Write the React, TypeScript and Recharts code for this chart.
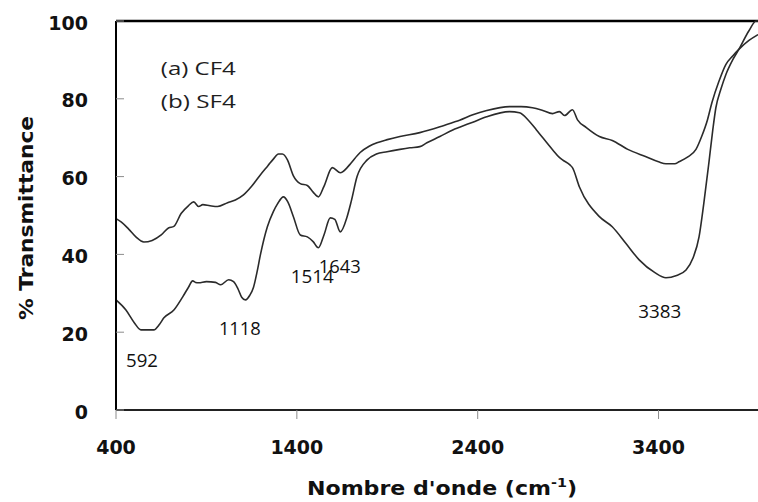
import React from 'react';
import { LineChart, Line, XAxis, YAxis, ReferenceLine, ReferenceDot, Label } from 'recharts';

// FTIR spectra
const cf4Wavenumbers = [
  400, 430, 470, 510, 554, 600, 650, 690, 720, 760, 800, 830, 857, 880, 920, 962, 1017, 1060, 1105, 1150,
  1199, 1240, 1270, 1298, 1320, 1348, 1381, 1419, 1458, 1490, 1519, 1550, 1596, 1640, 1678, 1700, 1750, 1800,
  1843, 1900, 1970, 2080, 2191, 2262, 2300, 2373, 2450, 2576, 2640, 2703, 2760, 2814, 2852, 2880, 2924, 2952,
  3001, 3073, 3144, 3230, 3331, 3400, 3441, 3490, 3513, 3560, 3607, 3640, 3670, 3695, 3734, 3772, 3810, 3844,
  3900, 3950,
];
const cf4Values = [
  49.2, 48.3, 46.5, 44.5, 43.2, 43.6, 45, 46.8, 47.2, 50.5, 52.5, 53.5, 52.3, 52.8, 52.5, 52.3, 53.3, 54, 55.3, 57.5,
  60.5, 62.8, 64.5, 65.8, 65.8, 64.3, 60.2, 58.2, 57.7, 56, 54.8, 57.5, 62.3, 61, 62.3, 63.5, 66.2, 67.8,
  68.7, 69.5, 70.3, 71.3, 72.8, 73.9, 74.5, 75.9, 77, 78, 78, 77.7, 77, 76.2, 76.7, 75.7, 77.2, 74.6,
  72.6, 70.3, 69.3, 67, 65.1, 63.8, 63.3, 63.3, 63.8, 65, 67, 70.5, 74.5, 79, 84.5, 88.8, 91, 92.7,
  95, 96.5,
];

const sf4Wavenumbers = [
  400, 455, 500, 538, 609, 640, 665, 720, 769, 800, 824, 840, 857, 900, 950, 979, 1023, 1050, 1072, 1095,
  1116, 1140, 1160, 1180, 1199, 1237, 1270, 1293, 1326, 1350, 1381, 1419, 1458, 1490, 1519, 1550, 1585, 1610,
  1640, 1678, 1700, 1733, 1789, 1840, 1899, 1970, 2025, 2080, 2119, 2191, 2262, 2300, 2373, 2450, 2576, 2631,
  2680, 2725, 2814, 2850, 2869, 2910, 2924, 2962, 3073, 3144, 3220, 3293, 3380, 3441, 3500, 3552, 3590, 3624,
  3650, 3679, 3700, 3717, 3745, 3772, 3810, 3844, 3900, 3940, 3950,
];
const sf4Values = [
  28.3, 25.7, 22.5, 20.6, 20.6, 22, 23.7, 25.7, 29.1, 31.5, 33.2, 32.8, 32.7, 33, 32.8, 32.2, 33.5, 33, 31.4, 29,
  28.3, 29.5, 31.5, 35.5, 40, 47.1, 51, 53, 54.8, 53.5, 49.7, 45, 44.5, 43.3, 41.7, 45, 49.4, 49,
  45.8, 49.7, 53.5, 60, 64.3, 65.8, 66.4, 67, 67.4, 67.7, 68.7, 70.3, 72, 72.7, 74, 75.4, 76.7, 76.4,
  74.5, 72, 66.9, 65, 64.3, 63, 62.3, 57.4, 49.7, 47.1, 42.8, 38.6, 35.3, 34, 34.6, 36, 39, 44.5,
  53, 63.8, 72, 77.7, 82.5, 86.2, 90, 92.7, 97.5, 100, 100,
];

const xTicks = [400, 1400, 2400, 3400];
const yTicks = [0, 20, 40, 60, 80, 100];

const seriesNames = ['(a) CF4', '(b) SF4'];
const legendX = [648, 648];
const legendY = [86.2, 77.7];

const peakLabels = ['592', '1118', '1514', '1643', '3383'];
const peakX = [544, 1085, 1485, 1637, 3407];
const peakY = [11.1, 19.3, 32.7, 35.3, 23.7];
const peakWidths = [32, 42, 43, 42, 43];

const cf4Data = cf4Wavenumbers.map((x, i) => ({ x, t: cf4Values[i] }));
const sf4Data = sf4Wavenumbers.map((x, i) => ({ x, t: sf4Values[i] }));

const YTick = (props: any) => {
  const { x, y, payload } = props;
  return (
    <g>
      <line x1={x} y1={y} x2={x + 8} y2={y} stroke="#8c8c8c" strokeWidth={1} />
      <text x={x - 28} y={y} dy={8.5} textAnchor="end" fontFamily="DejaVu Sans" fontWeight="bold" fontSize={19} fill="#111">
        {payload.value}
      </text>
    </g>
  );
};

const XTick = (props: any) => {
  const { x, y, payload } = props;
  return (
    <g>
      <line x1={x} y1={y} x2={x} y2={y + 9} stroke="#8c8c8c" strokeWidth={1} />
      <text x={x} y={y + 44} textAnchor="middle" fontFamily="DejaVu Sans" fontWeight="bold" fontSize={19} fill="#111">
        {payload.value}
      </text>
    </g>
  );
};

const App: React.FC = () => {
  return (
    <div style={{ position: 'absolute', left: 0, top: 0, width: 758, height: 502, background: '#fff' }}>
      <LineChart width={758} height={502} margin={{ top: 21, right: 0, bottom: 0, left: 0 }}>
        <XAxis
          type="number"
          dataKey="x"
          domain={[400, 3950]}
          ticks={xTicks}
          allowDataOverflow
          tickLine={false}
          tickSize={0}
          tickMargin={0}
          tick={<XTick />}
          axisLine={{ stroke: '#222', strokeWidth: 2 }}
          height={92}
        >
          <Label
            content={(p: any) => {
              const vb = p.viewBox || { x: 116, y: 410, width: 642 };
              return (
                <text
                  x={vb.x + vb.width / 2 + 5}
                  y={vb.y + 85}
                  textAnchor="middle"
                  fontFamily="DejaVu Sans"
                  fontWeight="bold"
                  fontSize={20}
                  fill="#111"
                  textLength={270}
                  lengthAdjust="spacingAndGlyphs"
                >
                  Nombre d'onde (cm
                  <tspan fontSize={13} dy={-8}>-1</tspan>
                  <tspan dy={8}>)</tspan>
                </text>
              );
            }}
          />
        </XAxis>
        <YAxis
          type="number"
          domain={[0, 100]}
          ticks={yTicks}
          width={116}
          tickLine={false}
          tickSize={0}
          tickMargin={0}
          tick={<YTick />}
          axisLine={{ stroke: '#000', strokeWidth: 2 }}
        >
          <Label
            content={() => (
              <text
                x={33}
                y={218}
                transform="rotate(-90 33 218)"
                textAnchor="middle"
                fontFamily="DejaVu Sans"
                fontWeight="bold"
                fontSize={20}
                fill="#111"
                textLength={204}
                lengthAdjust="spacingAndGlyphs"
              >
                % Transmittance
              </text>
            )}
          />
        </YAxis>
        <ReferenceLine y={100} stroke="#000" strokeWidth={2.5} ifOverflow="visible" />
        <Line data={cf4Data} dataKey="t" type="monotone" stroke="#2b2b2b" strokeWidth={1.6} dot={false} isAnimationActive={false} />
        <Line data={sf4Data} dataKey="t" type="monotone" stroke="#2b2b2b" strokeWidth={1.6} dot={false} isAnimationActive={false} />
        {seriesNames.map((name, i) => (
          <ReferenceDot
            key={name}
            x={legendX[i]}
            y={legendY[i]}
            r={0}
            ifOverflow="visible"
            shape={(p: any) => (
              <text x={p.cx} y={p.cy} fontFamily="Open Sans" fontSize={18} fill="#1e1e1e" textLength={75} lengthAdjust="spacingAndGlyphs">
                {name}
              </text>
            )}
          />
        ))}
        {peakLabels.map((lab, i) => (
          <ReferenceDot
            key={lab}
            x={peakX[i]}
            y={peakY[i]}
            r={0}
            ifOverflow="visible"
            shape={(p: any) => (
              <text
                x={p.cx}
                y={p.cy}
                textAnchor="middle"
                fontFamily="Open Sans"
                fontSize={18.5}
                fill="#111"
                textLength={peakWidths[i]}
                lengthAdjust="spacingAndGlyphs"
              >
                {lab}
              </text>
            )}
          />
        ))}
      </LineChart>
    </div>
  );
};

export default App;
